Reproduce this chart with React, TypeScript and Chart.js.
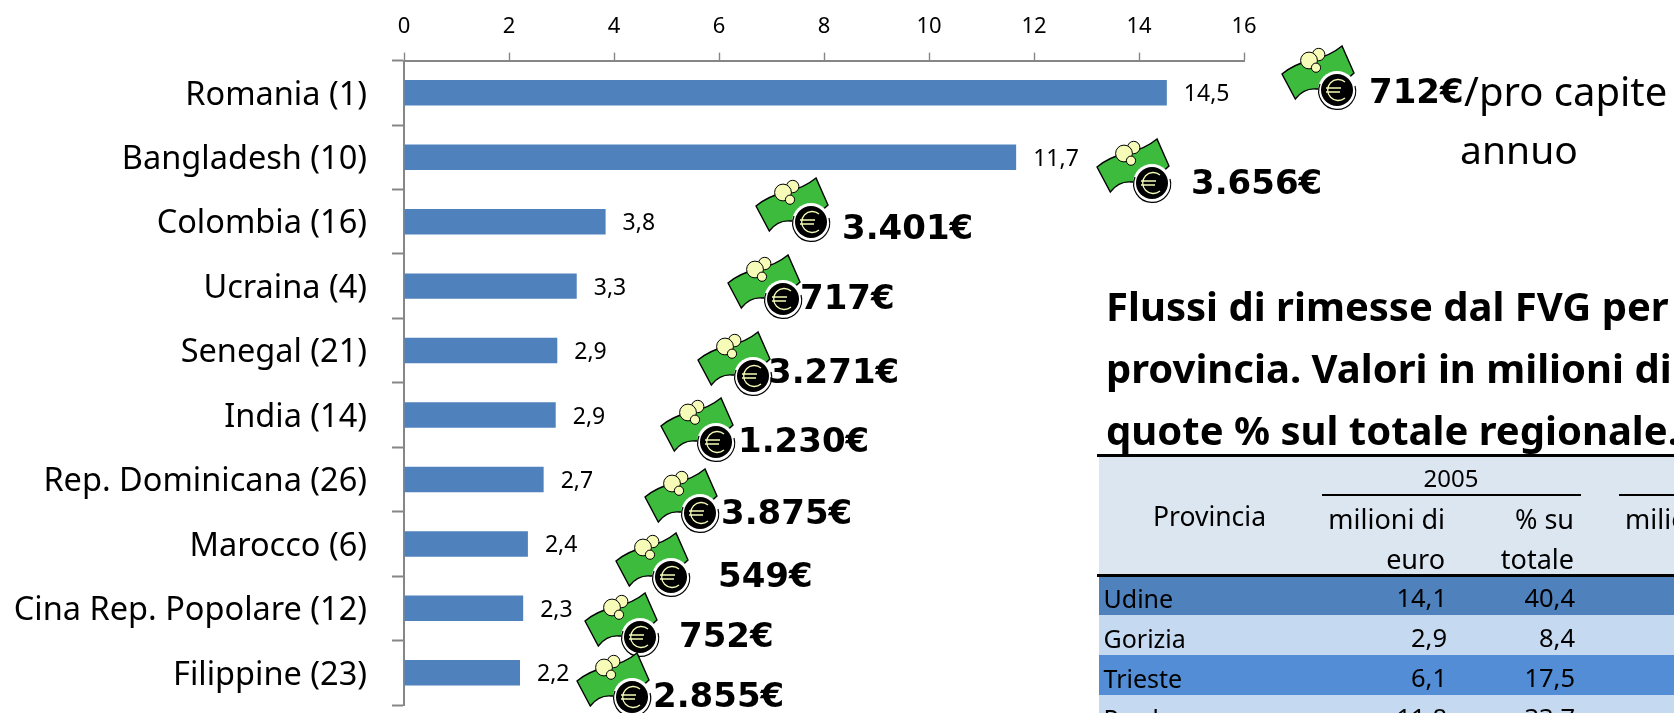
import React, { useEffect, useRef } from "react";
import { Chart, registerables } from "chart.js";

Chart.register(...registerables);

const countries = ["Romania (1)", "Bangladesh (10)", "Colombia (16)", "Ucraina (4)", "Senegal (21)", "India (14)", "Rep. Dominicana (26)", "Marocco (6)", "Cina Rep. Popolare (12)", "Filippine (23)"];
const remittances = [14.53, 11.66, 3.84, 3.29, 2.92, 2.89, 2.66, 2.36, 2.27, 2.21];
const perCapita = ["712€", "3.656€", "3.401€", "717€", "3.271€", "1.230€", "3.875€", "549€", "752€", "2.855€"];

const provinces = ["Udine", "Gorizia", "Trieste", "Pordenone"];
const millions2005 = ["14,1", "2,9", "6,1", "11,8"];
const share2005 = ["40,4", "8,4", "17,5", "33,7"];

const coinX = [1337, 1152, 811, 782.5, 752.6, 716, 700, 670.5, 640, 631.5];
const coinY = [89.5, 183, 222, 299, 376, 442, 513, 577, 637, 697];
const amountX = [1369, 1191, 842, 800, 768, 738, 721, 718, 679, 653];
const amountY = [91, 182, 227, 297, 370.5, 440, 512, 575, 635, 695];

const rowFill = ["#4f81bd", "#c5d9f1", "#538dd5", "#c5d9f1"];
const rowTop = [577, 615, 655, 695];
const rowMid = [598, 638, 678, 718];

const SANS = '"Noto Sans", sans-serif';

const valueLabels = {
  id: "valueLabels",
  afterDatasetsDraw(chart: any) {
    const { ctx } = chart;
    const meta = chart.getDatasetMeta(0);
    ctx.save();
    ctx.font = `23px ${SANS}`;
    ctx.fillStyle = "#000";
    ctx.textAlign = "left";
    ctx.textBaseline = "middle";
    meta.data.forEach((bar: any, i: number) => {
      ctx.fillText(remittances[i].toFixed(1).replace(".", ","), bar.x + 17, bar.y + 2);
    });
    ctx.restore();
  },
};

function Money({ cx, cy }: { cx: number; cy: number }) {
  return (
    <svg width={84} height={72} viewBox="0 0 84 72" style={{ position: "absolute", left: cx - 60, top: cy - 49 }}>
      <g transform="translate(5 5)">
        <path d="M0 28 L13.3 53 Q22 42 34 43 Q55 44 72 27 L60 0 Q48 10 30 14 Q12 18 0 28 Z" fill="#3dbb3d" stroke="#000" strokeWidth={1.4} />
        <circle cx={36.7} cy={8.5} r={6.2} fill="#f6fbb8" stroke="#000" strokeWidth={1} />
        <circle cx={27} cy={14.5} r={8.4} fill="#f6fbb8" stroke="#000" strokeWidth={1} />
        <circle cx={34} cy={21.7} r={4.6} fill="#f6fbb8" stroke="#000" strokeWidth={1} />
        <circle cx={55} cy={44} r={19} fill="#fff" stroke="none" />
        <path d="M38 38 A18.5 18.5 0 1 0 73 40" fill="none" stroke="#000" strokeWidth={1.2} />
        <circle cx={55} cy={44} r={16} fill="#000" />
        <path d="M63 36 A10.5 10.5 0 1 0 63 52 M44 42 H59 M44 46 H58" fill="none" stroke="#f6fbb8" strokeWidth={1.3} />
      </g>
    </svg>
  );
}

function Txt({ x, y, size, bold, align, family, children }: any) {
  const shift = align === "right" ? "-100%" : align === "center" ? "-50%" : "0";
  return (
    <span
      style={{
        position: "absolute",
        left: x,
        top: y,
        transform: `translate(${shift}, -50%)`,
        fontFamily: family ?? SANS,
        fontSize: size,
        fontWeight: bold ? 700 : 400,
        lineHeight: 1,
        whiteSpace: "nowrap",
        color: "#000",
      }}
    >
      {children}
    </span>
  );
}

export default function App() {
  const ref = useRef<HTMLCanvasElement>(null);

  useEffect(() => {
    const chart = new Chart(ref.current!, {
      type: "bar",
      data: {
        labels: countries,
        datasets: [{ data: remittances, backgroundColor: "#4f81bd", barPercentage: 0.395, categoryPercentage: 1 }],
      },
      plugins: [valueLabels],
      options: {
        indexAxis: "y",
        responsive: false,
        maintainAspectRatio: false,
        animation: false,
        layout: { padding: { left: 0, top: 0, right: 430, bottom: 8 } },
        plugins: { legend: { display: false }, tooltip: { enabled: false }, title: { display: false } },
        scales: {
          x: {
            position: "top",
            min: 0,
            max: 16,
            ticks: { stepSize: 2, color: "#000", font: { family: SANS, size: 22 }, padding: 13.1, maxRotation: 0 },
            grid: { drawOnChartArea: false, color: "#868686", tickLength: 8, tickWidth: 1.4 },
            border: { color: "#868686", width: 2 },
          },
          y: {
            afterFit: (s: any) => { s.width = 404; s.paddingTop = 0; s.paddingBottom = 0; },
            ticks: { color: "#000", font: { family: SANS, size: 32.5 }, padding: 25, autoSkip: false, labelOffset: 2.5 },
            grid: { drawOnChartArea: false, color: "#868686", tickLength: 12, tickWidth: 2 },
            border: { color: "#868686", width: 2 },
          },
        },
      },
    } as any);
    return () => chart.destroy();
  }, []);

  return (
    <div style={{ position: "fixed", left: 0, top: 0, width: 1674, height: 713, overflow: "hidden", background: "#fff" }}>
      <canvas ref={ref} width={1674} height={713} style={{ position: "absolute", left: 0, top: 0, display: "block" }} />

      {perCapita.map((t, i) => (
        <React.Fragment key={t}>
          <Money cx={coinX[i]} cy={coinY[i]} />
          <Txt x={amountX[i]} y={amountY[i]} size={34} bold family='"DejaVu Sans", sans-serif'>{t}</Txt>
        </React.Fragment>
      ))}
      <Txt x={1464} y={91} size={40}>/pro capite</Txt>
      <Txt x={1519} y={148} size={39} align="center">annuo</Txt>

      <Txt x={1106} y={306} size={40} bold>Flussi di rimesse dal FVG per</Txt>
      <Txt x={1106} y={368} size={40} bold>provincia. Valori in milioni di</Txt>
      <Txt x={1106} y={430} size={40} bold>quote % sul totale regionale.</Txt>

      <div style={{ position: "absolute", left: 1099, top: 455, width: 575, height: 120, background: "#dce6f1" }} />
      <div style={{ position: "absolute", left: 1097, top: 454, width: 577, height: 3, background: "#000" }} />
      <div style={{ position: "absolute", left: 1097, top: 574, width: 577, height: 3, background: "#000" }} />
      <div style={{ position: "absolute", left: 1322, top: 494, width: 259, height: 2, background: "#000" }} />
      <div style={{ position: "absolute", left: 1619, top: 494, width: 55, height: 2, background: "#000" }} />
      <Txt x={1451} y={478} size={24} align="center">2005</Txt>
      <Txt x={1209.5} y={516} size={26.5} align="center">Provincia</Txt>
      <Txt x={1445} y={518} size={27} align="right">milioni di</Txt>
      <Txt x={1445} y={558} size={27} align="right">euro</Txt>
      <Txt x={1574} y={518} size={27} align="right">% su</Txt>
      <Txt x={1574} y={558} size={27} align="right">totale</Txt>
      <Txt x={1625} y={518} size={27}>milioni di</Txt>

      {provinces.map((p, i) => (
        <React.Fragment key={p}>
          <div style={{ position: "absolute", left: 1099, top: rowTop[i], width: 575, height: (rowTop[i + 1] ?? 735) - rowTop[i], background: rowFill[i] }} />
          <Txt x={1103.5} y={rowMid[i]} size={25}>{p}</Txt>
          <Txt x={1447} y={rowMid[i]} size={25.5} align="right">{millions2005[i]}</Txt>
          <Txt x={1575} y={rowMid[i]} size={25.5} align="right">{share2005[i]}</Txt>
        </React.Fragment>
      ))}
    </div>
  );
}
